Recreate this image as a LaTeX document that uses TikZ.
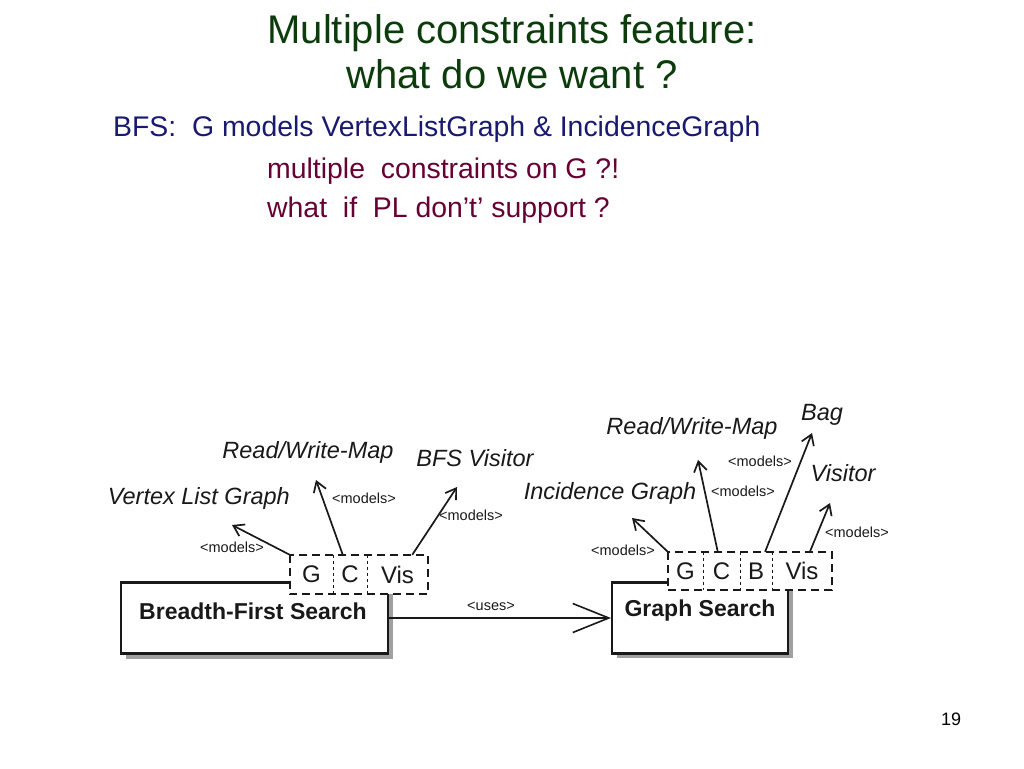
\documentclass[tikz,border=0pt]{standalone}
\usepackage{fontspec}
\setmainfont{Liberation Sans}
\usetikzlibrary{arrows.meta,calc}
\definecolor{titlegreen}{RGB}{12,60,12}
\definecolor{navyblue}{RGB}{25,25,112}
\definecolor{maroonred}{RGB}{102,0,51}
\definecolor{shadowgray}{RGB}{160,160,160}
\definecolor{inkgray}{RGB}{25,25,25}
\begin{document}
\begin{tikzpicture}[x=1pt,y=-1pt,
  titletext/.style={anchor=base,inner sep=0pt,text=titlegreen,font=\fontsize{40}{48}\selectfont},
  bodyblue/.style={anchor=base west,inner sep=0pt,text=navyblue,font=\fontsize{28.4}{34}\selectfont},
  bodyred/.style={anchor=base west,inner sep=0pt,text=maroonred,font=\fontsize{28.4}{34}\selectfont},
  concept/.style={inner sep=0pt,text=inkgray,font=\fontsize{23.5}{28}\selectfont\itshape},
  relation/.style={inner sep=0pt,text=inkgray,font=\fontsize{14.5}{17}\selectfont},
  classbox/.style={draw=inkgray,line width=2.2pt,fill=white,minimum width=#1,minimum height=71pt,inner sep=0pt},
  boxname/.style={inner sep=0pt,text=inkgray,font=\fontsize{23}{28}\selectfont\bfseries},
  compart/.style={minimum width=#1,minimum height=39pt,inner sep=0pt,text=inkgray,font=\fontsize{24}{28}\selectfont},
  dashedbox/.style={draw=inkgray,fill=white,line width=2.2pt,dash pattern=on 8pt off 5pt},
  divider/.style={draw=inkgray,line width=1pt,dash pattern=on 3pt off 3pt},
  modelsarrow/.style={draw=inkgray,line width=1.7pt,-{Straight Barb[length=10pt,width=13pt,line width=1.7pt]}},
  usesarrow/.style={draw=inkgray,line width=1.2pt,-{Straight Barb[length=36pt,width=29pt,line width=1.6pt]}}]
\useasboundingbox (0,0) rectangle (1024,768);

% title and text
\node[titletext] (t1) at (512,44) {Multiple constraints feature:};
\node[titletext] (t2) at (512,88) {what do we want ?};
\node[bodyblue] (b1) at (113,136) {BFS:\ \ G models VertexListGraph \& IncidenceGraph};
\node[bodyred] (r1) at (267,178) {multiple\ \ constraints on G ?!};
\node[bodyred] (r2) at (267,217) {what\ \ if\ \ PL don’t’ support ?};
\node[anchor=base,inner sep=0pt,font=\fontsize{18}{22}\selectfont] (pg) at (951,725) {19};

\begin{scope}
\clip (110,398) rectangle (888,665);
% shadows
\fill[shadowgray] (126,588) rectangle (393,659);
\fill[shadowgray] (617,588) rectangle (793,658);
% class boxes
\node[classbox=267pt] (bfs) at (254.5,618) {};
\node[classbox=176pt] (gs) at (700,618) {};
\node[boxname] (bfsname) at (253,611) {Breadth-First Search};
\node[boxname] (gsname) at (700,611) {Graph Search};

% left compartments
\node[compart=43pt] (lG) at (311.5,574.5) {};
\node[compart=34pt] (lC) at (350,574.5) {};
\node[compart=61pt] (lV) at (397.5,574.5) {};
\draw[dashedbox] (lG.north west) rectangle (lV.south east);
\draw[divider] (lG.north east) -- (lG.south east);
\draw[divider] (lC.north east) -- (lC.south east);
\node[compart=43pt] at (lG) {G};
\node[compart=34pt] at (lC) {C};
\node[compart=61pt] at (lV) {Vis};

% right compartments
\node[compart=35pt,minimum height=38pt] (rG) at (685.5,571) {};
\node[compart=37pt,minimum height=38pt] (rC) at (721.5,571) {};
\node[compart=32pt,minimum height=38pt] (rB) at (756,571) {};
\node[compart=60pt,minimum height=38pt] (rV) at (802,571) {};
\draw[dashedbox] (rG.north west) rectangle (rV.south east);
\draw[divider] (rG.north east) -- (rG.south east);
\draw[divider] (rC.north east) -- (rC.south east);
\draw[divider] (rB.north east) -- (rB.south east);
\node[compart=35pt,minimum height=38pt] at (rG) {G};
\node[compart=37pt,minimum height=38pt] at (rC) {C};
\node[compart=32pt,minimum height=38pt] at (rB) {B};
\node[compart=60pt,minimum height=38pt] at (rV) {Vis};

% concepts (left)
\node[concept,anchor=east] (vlg) at (290,498) {Vertex List Graph};
\node[concept] (rwl) at (308,452) {Read/Write-Map};
\node[concept] (bfsv) at (475,458) {BFS Visitor};
% concepts (right)
\node[concept] (ig) at (610,493) {Incidence Graph};
\node[concept] (rwr) at (692,428) {Read/Write-Map};
\node[concept] (bag) at (822,415) {Bag};
\node[concept] (vis) at (843,473) {Visitor};

% arrow tips
\coordinate (tlG) at (232,525);
\coordinate (tlC) at (316,480);
\coordinate (tlV) at (457,487);
\coordinate (trG) at (632,518);
\coordinate (trC) at (698,460);
\coordinate (trB) at (812,433);
\coordinate (trV) at (830,503);

% models arrows left
\draw[modelsarrow] (lG.north west) -- (tlG);
\draw[modelsarrow] ($(lC.north west)!0.29!(lC.north east)$) -- (tlC);
\draw[modelsarrow] ($(lV.north west)!0.74!(lV.north east)$) -- (tlV);
% models arrows right
\draw[modelsarrow] (rG.north west) -- (trG);
\draw[modelsarrow] ($(rC.north west)!0.4!(rC.north east)$) -- (trC);
\draw[modelsarrow] ($(rB.north west)!0.78!(rB.north east)$) -- (trB);
\draw[modelsarrow] ($(rV.north west)!0.63!(rV.north east)$) -- (trV);

% relation labels
\node[relation] (m1) at (232,547) {<models>};
\node[relation] (m2) at (364,498) {<models>};
\node[relation] (m3) at (471,515) {<models>};
\node[relation] (m4) at (623,550) {<models>};
\node[relation] (m5) at (743,491) {<models>};
\node[relation] (m6) at (760,461) {<models>};
\node[relation] (m7) at (857,532) {<models>};

% uses
\draw[usesarrow] (bfs.east) -- (gs.west);
\node[relation] (uses) at (491,606) {<uses>};
\end{scope}
\end{tikzpicture}
\end{document}
